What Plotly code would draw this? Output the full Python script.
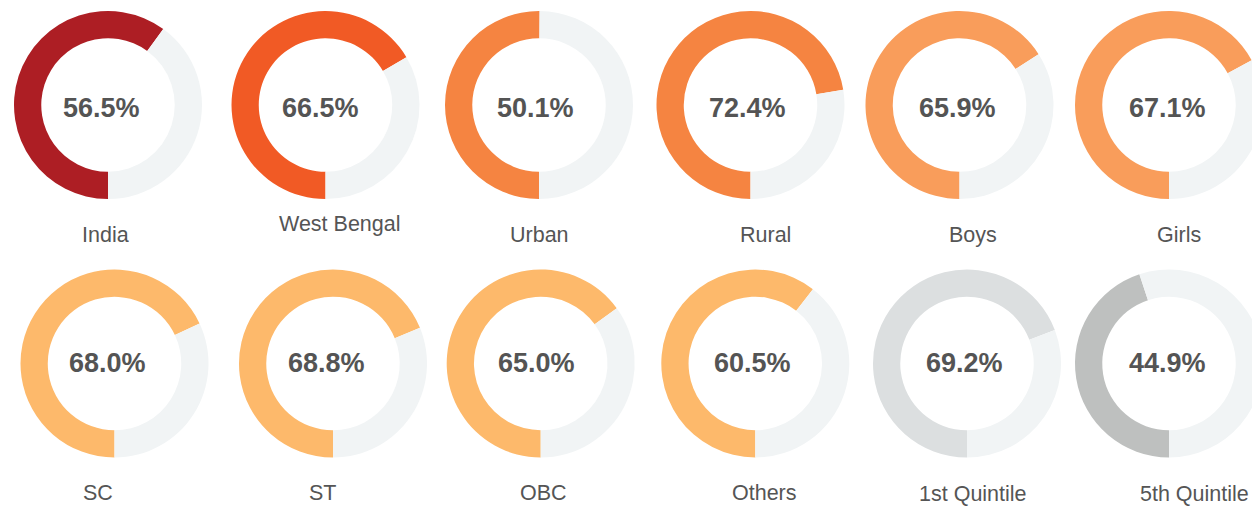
import plotly.graph_objects as go

VIEW_W = 1252
W, H = 1270, 506   # figure slightly wider than the view so the right-hand donuts are clipped as in the reference

# ---- data ----
categories = ["India", "West Bengal", "Urban", "Rural", "Boys", "Girls",
              "SC", "ST", "OBC", "Others", "1st Quintile", "5th Quintile"]
pct_labels = [56.5, 66.5, 50.1, 72.4, 65.9, 67.1,
              68.0, 68.8, 65.0, 60.5, 69.2, 44.9]
# arc sizes as drawn in the picture (India's arc is drawn at about 60%)
arc_values = [60.0, 66.5, 50.1, 72.4, 65.9, 67.1,
              68.0, 68.8, 65.0, 60.5, 69.2, 44.9]
colors = ["#AD1E24", "#F15A25", "#F58441", "#F58441", "#F99D5B", "#F99D5B",
          "#FDB96B", "#FDB96B", "#FDB96B", "#FDB96B", "#DCDFE0", "#BEC0BF"]
rest_color = "#F1F4F5"

# ---- layout (pixel positions) ----
centers = [(108, 105), (325.5, 105), (539, 105), (750.5, 105), (959.5, 105), (1169, 105),
           (114.5, 363.5), (333, 363.5), (540.7, 363.5), (755.3, 363.5), (967, 363.5), (1169, 363.5)]
pct_pos = [(101, 107.5), (320.5, 107.5), (535, 107.5), (747.5, 107.5), (957.5, 107.5), (1167, 107.5),
           (107.7, 362.7), (327, 362.7), (536.7, 362.7), (752, 362.7), (964.8, 362.7), (1167, 362.7)]
lab_pos = [(105.5, 234.5), (340, 224), (539, 234.5), (766, 234.5), (972.5, 234.5), (1179, 234.5),
           (97.7, 492.5), (322, 492.5), (543.3, 492.5), (764, 492.5), (972.5, 494), (1194.7, 494)]
R = 94

fig = go.Figure()
annotations = []
for i, cat in enumerate(categories):
    cx, cy = centers[i]
    x0, x1 = (cx - R) / W, (cx + R) / W
    y0, y1 = 1 - (cy + R) / H, 1 - (cy - R) / H
    v = arc_values[i]
    fig.add_trace(go.Pie(
        values=[v, 100 - v],
        labels=[cat, "rest"],
        sort=False,
        direction="clockwise",
        rotation=180,
        hole=0.71,
        textinfo="none",
        hoverinfo="skip",
        showlegend=False,
        marker=dict(colors=[colors[i], rest_color], line=dict(width=0)),
        domain=dict(x=[x0, x1], y=[y0, y1]),
    ))
    px, py = pct_pos[i]
    annotations.append(dict(
        x=px / W, y=1 - py / H, xref="paper", yref="paper",
        text=f"<b>{pct_labels[i]:.1f}%</b>", showarrow=False,
        xanchor="center", yanchor="middle",
        font=dict(family="Liberation Sans, Arial, sans-serif", size=27, color="#545454"),
    ))
    lx, ly = lab_pos[i]
    annotations.append(dict(
        x=lx / W, y=1 - ly / H, xref="paper", yref="paper",
        text=cat, showarrow=False,
        xanchor="center", yanchor="middle",
        font=dict(family="Liberation Sans, Arial, sans-serif", size=21.5, color="#555555"),
    ))

fig.update_layout(
    width=W, height=H,
    margin=dict(l=0, r=0, t=0, b=0),
    paper_bgcolor="white", plot_bgcolor="white",
    annotations=annotations,
)

fig.write_html(
    "out.html",
    config={"displayModeBar": False},
    post_script="document.documentElement.style.overflow='hidden';"
                "document.body.style.margin='0';document.body.style.overflow='hidden';",
)
